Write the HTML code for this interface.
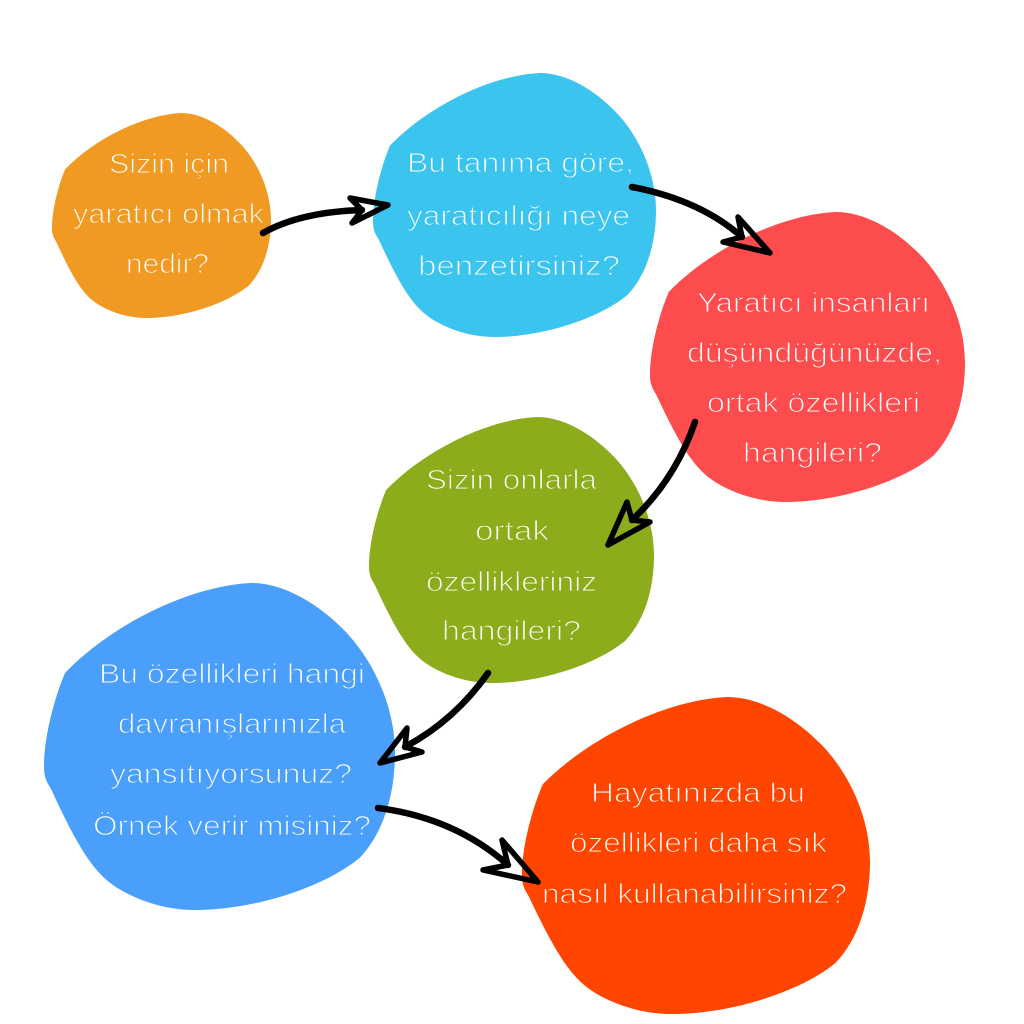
<!DOCTYPE html>
<html><head><meta charset="utf-8"><style>
html,body{margin:0;padding:0;background:#fff;width:1024px;height:1024px;overflow:hidden}
svg{display:block}
text{font-family:"Liberation Sans","DejaVu Sans",sans-serif;font-size:28px;fill:#fff;stroke-width:1.1}
</style></head><body>
<svg width="1024" height="1024" viewBox="0 0 1024 1024" xmlns="http://www.w3.org/2000/svg">
<defs>
<path id="b" d="M59 0 C40 1,18 14,6 27.5 C3 35,0 47,0 56 C0 60,1 61,2 63 C5 70,9 79,13 85 C17 91,21 94,28 97 C33 99,38 100,43 100 C60 100,80 93,90 84 C97 76,100 64,100 52 C100 38,94 24,86 15 C78 6,68 0,59 0 Z"/>
</defs>
<rect width="1024" height="1024" fill="#fff"/>
<use href="#b" fill="#F09A23" transform="translate(52,113) scale(2.19,2.05)"/>
<use href="#b" fill="#3BC4EE" transform="translate(373,73) scale(2.83,2.64)"/>
<use href="#b" fill="#FC4C4E" transform="translate(650,212) scale(3.15,2.90)"/>
<use href="#b" fill="#8CAC1C" transform="translate(369,417) scale(2.85,2.66)"/>
<use href="#b" fill="#4A9FFA" transform="translate(44,583) scale(3.51,3.27)"/>
<use href="#b" fill="#FF4500" transform="translate(522,697) scale(3.48,3.17)"/>

<g stroke="#F09A23">
<text x="109" y="173" textLength="120" lengthAdjust="spacingAndGlyphs">Sizin için</text>
<text x="73" y="223" textLength="191" lengthAdjust="spacingAndGlyphs">yaratıcı olmak</text>
<text x="126" y="273" textLength="83" lengthAdjust="spacingAndGlyphs">nedir?</text>
</g>
<g stroke="#3BC4EE">
<text x="407" y="172" textLength="227" lengthAdjust="spacingAndGlyphs">Bu tanıma göre,</text>
<text x="407" y="225" textLength="223" lengthAdjust="spacingAndGlyphs">yaratıcılığı neye</text>
<text x="418" y="275" textLength="202" lengthAdjust="spacingAndGlyphs">benzetirsiniz?</text>
</g>
<g stroke="#FC4C4E">
<text x="697" y="312" textLength="233" lengthAdjust="spacingAndGlyphs">Yaratıcı insanları</text>
<text x="687" y="362" textLength="255" lengthAdjust="spacingAndGlyphs">düşündüğünüzde,</text>
<text x="707" y="412" textLength="213" lengthAdjust="spacingAndGlyphs">ortak özellikleri</text>
<text x="743" y="462" textLength="139" lengthAdjust="spacingAndGlyphs">hangileri?</text>
</g>
<g stroke="#8CAC1C">
<text x="426" y="489" textLength="171" lengthAdjust="spacingAndGlyphs">Sizin onlarla</text>
<text x="475" y="540" textLength="74" lengthAdjust="spacingAndGlyphs">ortak</text>
<text x="426" y="591" textLength="171" lengthAdjust="spacingAndGlyphs">özellikleriniz</text>
<text x="442" y="640" textLength="139" lengthAdjust="spacingAndGlyphs">hangileri?</text>
</g>
<g stroke="#4A9FFA">
<text x="99" y="683" textLength="266" lengthAdjust="spacingAndGlyphs">Bu özellikleri hangi</text>
<text x="118" y="733" textLength="228" lengthAdjust="spacingAndGlyphs">davranışlarınızla</text>
<text x="110" y="783" textLength="242" lengthAdjust="spacingAndGlyphs">yansıtıyorsunuz?</text>
<text x="93" y="835" textLength="278" lengthAdjust="spacingAndGlyphs">Örnek verir misiniz?</text>
</g>
<g stroke="#FF4500">
<text x="591" y="802" textLength="214" lengthAdjust="spacingAndGlyphs">Hayatınızda bu</text>
<text x="570" y="852" textLength="257" lengthAdjust="spacingAndGlyphs">özellikleri daha sık</text>
<text x="542" y="903" textLength="305" lengthAdjust="spacingAndGlyphs">nasıl kullanabilirsiniz?</text>
</g>

<g fill="none" stroke="#000" stroke-width="6.5" stroke-linecap="round" stroke-linejoin="round">
<path d="M263 233 Q300 212 362 210"/>
<path d="M350 198 L388 205 L352 223 L362 210 Z" stroke-width="5.5"/>
<path d="M632 187 Q700 200 742 237"/>
<path d="M738 217 L770 253 L723 242 L742 237 Z" stroke-width="5.5"/>
<path d="M695 422 Q675 480 632 520"/>
<path d="M627 502 L608 545 L650 522 L632 520 Z" stroke-width="5.5"/>
<path d="M488 673 Q455 720 405 747"/>
<path d="M407 728 L380 763 L422 752 L405 747 Z" stroke-width="5.5"/>
<path d="M378 808 Q455 818 508 865"/>
<path d="M502 840 L538 882 L483 870 L508 865 Z" stroke-width="5.5"/>
</g>
</svg>
</body></html>
